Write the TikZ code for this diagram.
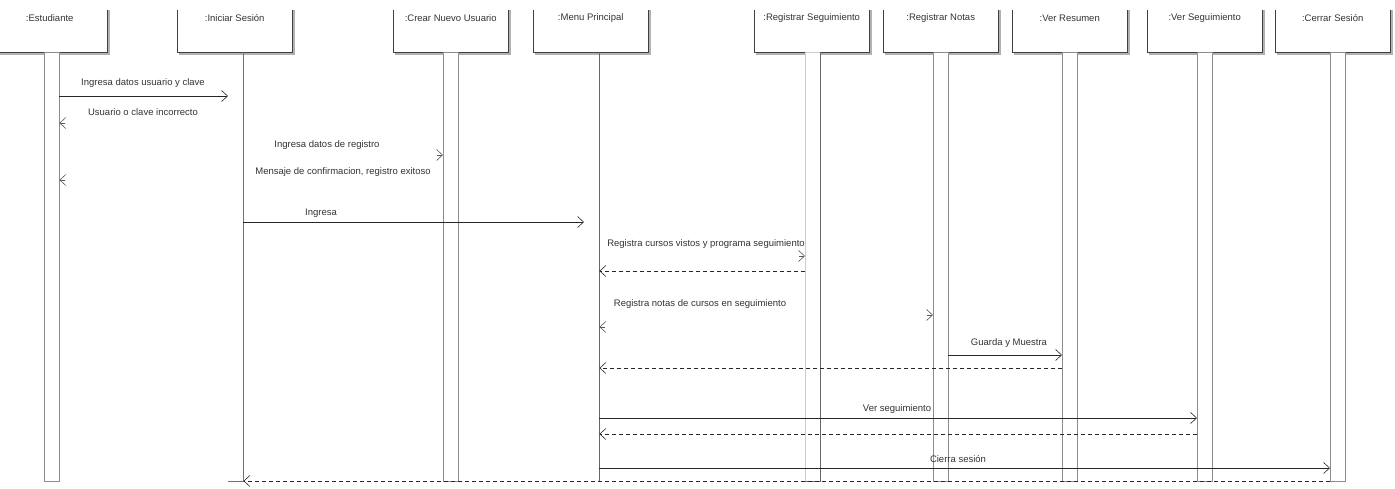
\documentclass[tikz,border=0pt]{standalone}
\usepackage{fontspec}
\setmainfont{Liberation Sans}
\usetikzlibrary{arrows.meta,calc}

\tikzset{
	cabeza/.style={rectangle, minimum width=115pt, minimum height=42pt, inner sep=0pt, anchor=north west},
	activa/.style={rectangle, draw=black!45, fill=white, minimum width=15pt, minimum height=429pt, inner sep=0pt, anchor=north west},
	texto/.style={font=\fontsize{9.5}{11}\selectfont, text=black!80, inner sep=1pt},
	mensaje/.style={draw=black!85, line width=0.8pt, -{Straight Barb[length=6pt,width=11pt,line width=0.6pt]}},
	retorno/.style={mensaje, dash pattern=on 4pt off 3pt},
	punta/.style={draw=black!65, line width=0.6pt, -{Straight Barb[length=6pt,width=11pt,line width=0.6pt]}},
}

\begin{document}
\begin{tikzpicture}[x=1pt, y=-1pt]
	% parametros
	\def\Top{10}   % borde superior de las cabeceras
	\def\Bar{52}   % inicio de las barras de activacion

	\useasboundingbox (0,0) rectangle (1395,488);

	% cabeceras de los objetos
	\node[cabeza] (est) at (-8,\Top)   {};
	\node[cabeza] (ini) at (177,\Top)  {};
	\node[cabeza] (cre) at (393,\Top)  {};
	\node[cabeza] (men) at (533,\Top)  {};
	\node[cabeza] (rsg) at (754,\Top)  {};
	\node[cabeza] (rno) at (883,\Top)  {};
	\node[cabeza] (vre) at (1012,\Top) {};
	\node[cabeza] (vsg) at (1147,\Top) {};
	\node[cabeza] (cer) at (1275,\Top) {};

	\foreach \c/\t in {est/{:Estudiante}, ini/{:Iniciar Sesión}, cre/{:Crear Nuevo Usuario},
		men/{:Menu Principal}, rsg/{:Registrar Seguimiento}, rno/{:Registrar Notas},
		vre/{:Ver Resumen}, vsg/{:Ver Seguimiento}, cer/{:Cerrar Sesión}} {
		% sombra y contorno abierto arriba
		\draw[black!30, line width=1.2pt] ($(\c.north east)+(1.5,0)$) -- ($(\c.south east)+(1.5,1.5)$) -- ($(\c.south west)+(1.5,1.5)$);
		\draw[black!75, line width=0.8pt] (\c.north west) -- (\c.south west) -- (\c.south east) -- (\c.north east);
		\node[texto] (\c-t) at ($(\c.north)+(0,8.5)$) {\t};
	}

	% barras de activacion
	\node[activa] (estA) at (44,\Bar)   {};
	\node[activa, draw=none, fill=none] (iniA) at (228,\Bar) {};
	\node[activa] (creA) at (443,\Bar)  {};
	\node[activa, draw=none, fill=none] (menA) at (584,\Bar) {};
	\node[activa, draw=black!20] (rsgA) at (805,\Bar) {};
	\node[activa] (rnoA) at (933,\Bar)  {};
	\node[activa] (vreA) at (1062,\Bar) {};
	\node[activa] (vsgA) at (1197,\Bar) {};
	\node[activa] (cerA) at (1330,\Bar) {};

	\draw[black!55, line width=0.7pt] (iniA.north east) -- (iniA.south east) -- (iniA.south west);
	\draw[black!60, line width=0.7pt] (menA.north east) -- (menA.south east);
	\draw[black!60, line width=0.7pt] (rsgA.north east) -- (rsgA.south east) -- (rsgA.south west);

	% alturas de los mensajes
	\foreach \n/\y in {m1/96, m2/123, m3/155, m4/180, m5/222, m6/256, m7/271, m8/315,
		m9/327, m10/355, m11/368, m12/418, m13/434, m14/468, m15/481}
		\coordinate (\n) at (0,\y);

	% mensajes
	\draw[mensaje] (estA.east |- m1) -- (iniA.west |- m1);
	\node[texto] (l1) at (143,83) {Ingresa datos usuario y clave};

	\node[texto] (l2) at (143,112) {Usuario o clave incorrecto};
	\draw[punta] ($(estA.east |- m2)+(6,0)$) -- (estA.east |- m2);

	\node[texto] (l3) at (327,145) {Ingresa datos de registro};
	\draw[punta] ($(creA.west |- m3)-(6,0)$) -- (creA.west |- m3);

	\node[texto] (l4) at (343,172) {Mensaje de confirmacion, registro exitoso};
	\draw[punta] ($(estA.east |- m4)+(6,0)$) -- (estA.east |- m4);

	\draw[mensaje] (iniA.east |- m5) -- (menA.west |- m5);
	\node[texto] (l5) at (321,213) {Ingresa};

	\node[texto] (l6) at (706,244) {Registra cursos vistos y programa seguimiento};
	\draw[punta] ($(rsgA.west |- m6)-(6,0)$) -- (rsgA.west |- m6);
	\draw[retorno] (rsgA.west |- m7) -- (menA.east |- m7);

	\node[texto] (l8) at (700,304) {Registra notas de cursos en seguimiento};
	\draw[punta] ($(rnoA.west |- m8)-(6,0)$) -- (rnoA.west |- m8);
	\draw[punta] ($(menA.east |- m9)+(6,0)$) -- (menA.east |- m9);

	\draw[mensaje] (rnoA.east |- m10) -- (vreA.west |- m10);
	\node[texto] (l10) at (1009,343) {Guarda y Muestra};
	\draw[retorno] (vreA.west |- m11) -- (menA.east |- m11);

	\draw[mensaje] (menA.east |- m12) -- (vsgA.west |- m12);
	\node[texto] (l12) at (897,409) {Ver seguimiento};
	\draw[retorno] (vsgA.west |- m13) -- (menA.east |- m13);

	\draw[mensaje] (menA.east |- m14) -- (cerA.west |- m14);
	\node[texto] (l14) at (958,459) {Cierra sesión};
	\draw[retorno] (cerA.west |- m15) -- (iniA.east |- m15);
\end{tikzpicture}
\end{document}
